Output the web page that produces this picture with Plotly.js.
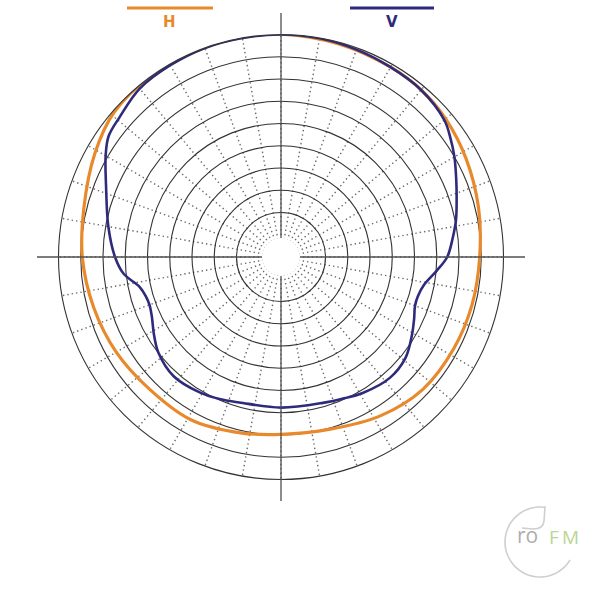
<!DOCTYPE html>
<html>
<head>
<meta charset="utf-8">
<script src="https://cdn.plot.ly/plotly-3.0.1.min.js"></script>
<style>html,body{margin:0;padding:0;background:#fff;}#chart{width:600px;height:600px;}</style>
</head>
<body>
<div id="chart"></div>
<script>
// Polar pattern data (angle in degrees, clockwise from top; radius on 0..10 ring scale)
var hAngles = [0, 15, 30, 40, 50, 62, 76, 90, 104, 118, 133, 148, 164, 180, 193, 209, 225, 240, 255, 270, 284, 299, 311, 325, 340, 350, 360];
var hValues = [10.02, 9.92, 9.85, 9.8, 9.66, 9.42, 9.15, 8.93, 8.85, 8.79, 8.72, 8.42, 8.05, 7.97, 8.11, 8.36, 8.38, 8.55, 8.72, 8.93, 9.13, 9.57, 9.93, 10.02, 10.02, 10.02, 10.02];

var vAngles = [0, 10, 20, 30, 40, 50, 55, 60, 66, 72, 78, 84, 90, 95, 101, 106, 110, 115, 121, 129, 138, 149, 156, 164, 180, 196, 203, 211, 222, 232, 239, 245, 250, 254, 258, 264, 270, 280, 292, 300, 305, 311, 320, 330, 340, 350, 360];
var vValues = [10.0, 9.98, 9.92, 9.85, 9.8, 9.58, 9.3, 9.0, 8.62, 8.3, 8.04, 7.75, 7.47, 7.03, 6.55, 6.4, 6.41, 6.6, 6.86, 7.2, 7.31, 7.13, 6.95, 6.82, 6.77, 6.8, 6.95, 7.1, 7.21, 6.99, 6.67, 6.4, 6.29, 6.33, 6.49, 7.12, 7.46, 7.88, 8.48, 9.1, 9.46, 9.6, 9.88, 9.95, 10.0, 10.0, 10.0];

var seriesNames = ['H', 'V'];
var seriesColors = ['#E8892C', '#2F2B7C'];
var ringValues = [2, 3, 4, 5, 6, 7, 8, 9];
var logoParts = ['ro', 'FM'];

// page-pixel helpers (margins are zero, paper = 600x600)
var W = 600, H = 600;
function px(x) { return x / W; }
function py(y) { return 1 - y / H; }
function pt(x, y) { return px(x).toFixed(4) + ',' + py(y).toFixed(4); }

var cx = 281, cy = 257, R = 222.5;

var traces = [
  {type: 'scatterpolar', r: hValues, theta: hAngles, mode: 'lines', name: seriesNames[0],
   line: {color: seriesColors[0], width: 3.2, shape: 'spline', smoothing: 1}},
  {type: 'scatterpolar', r: vValues, theta: vAngles, mode: 'lines', name: seriesNames[1],
   line: {color: seriesColors[1], width: 2.6, shape: 'spline', smoothing: 1}}
];

var shapes = [];
// white centre disc (no grid inside)
var hole = 19;
shapes.push({type: 'circle', xref: 'paper', yref: 'paper', x0: px(cx - hole), x1: px(cx + hole), y0: py(cy + hole), y1: py(cy - hole),
             fillcolor: '#ffffff', line: {width: 0}, layer: 'above'});
function seg(x0, y0, x1, y1, color, width) {
  shapes.push({type: 'line', xref: 'paper', yref: 'paper', x0: px(x0), y0: py(y0), x1: px(x1), y1: py(y1),
               line: {color: color, width: width}, layer: 'above'});
}
// main cross axes
var ext = 244;
seg(cx - ext, cy, cx - hole, cy, '#505050', 1.3);
seg(cx + hole, cy, cx + ext, cy, '#505050', 1.3);
seg(cx, cy - ext, cx, cy - hole, '#505050', 1.3);
seg(cx, cy + hole, cx, cy + ext, '#505050', 1.3);
// legend swatches
seg(127, 8, 213, 8, seriesColors[0], 3.2);
seg(350, 8, 434, 8, seriesColors[1], 3.2);

// logo outline: open circle with a leaf-like top joining the "r"
var lcx = 540, lcy = 542, lr = 35;
var p = '';
for (var a = 31; a <= 278; a += 5) {
  var t = a * Math.PI / 180;
  p += (p ? ' L ' : 'M ') + pt(lcx + lr * Math.cos(t), lcy + lr * Math.sin(t));
}
p += ' L ' + pt(545, 507) + ' L ' + pt(544, 521);
p += ' Q ' + pt(543.5, 529) + ' ' + pt(533, 529);
p += ' L ' + pt(522, 528);
shapes.push({type: 'path', xref: 'paper', yref: 'paper', path: p, line: {color: '#cfcfcf', width: 1.6}});

var annotations = [
  {xref: 'paper', yref: 'paper', x: px(169.5), y: py(22.5), text: '<b>' + seriesNames[0] + '</b>', showarrow: false,
   font: {family: 'DejaVu Sans', size: 15, color: seriesColors[0]}, xanchor: 'center', yanchor: 'middle'},
  {xref: 'paper', yref: 'paper', x: px(392), y: py(22.5), text: '<b>' + seriesNames[1] + '</b>', showarrow: false,
   font: {family: 'DejaVu Sans', size: 15, color: seriesColors[1]}, xanchor: 'center', yanchor: 'middle'},
  {xref: 'paper', yref: 'paper', x: px(527), y: py(534.5), showarrow: false, xanchor: 'center', yanchor: 'middle',
   text: logoParts[0], font: {family: 'Open Sans', size: 21, color: '#aeaeae'}},
  {xref: 'paper', yref: 'paper', x: px(563.5), y: py(537), showarrow: false, xanchor: 'center', yanchor: 'middle',
   text: logoParts[1].split('').join('\u2009'), font: {family: 'Open Sans', size: 19, color: '#b9d692'}}
];

var layout = {
  width: 600, height: 600,
  margin: {l: 0, r: 0, t: 0, b: 0},
  paper_bgcolor: '#ffffff',
  showlegend: false,
  polar: {
    domain: {x: [px(cx - R), px(cx + R)], y: [py(cy + R), py(cy - R)]},
    bgcolor: 'rgba(0,0,0,0)',
    radialaxis: {range: [0, 10], tickvals: ringValues, showticklabels: false, ticks: '',
                 showline: false, gridcolor: '#333333', gridwidth: 1.1},
    angularaxis: {rotation: 90, direction: 'clockwise', dtick: 10, showticklabels: false, ticks: '',
                  showline: true, linecolor: '#333333', linewidth: 1.1,
                  gridcolor: '#6a6a6a', gridwidth: 1.4, griddash: '1.4px,3px'}
  },
  shapes: shapes,
  annotations: annotations
};

Plotly.newPlot('chart', traces, layout, {staticPlot: true});
</script>
</body>
</html>
